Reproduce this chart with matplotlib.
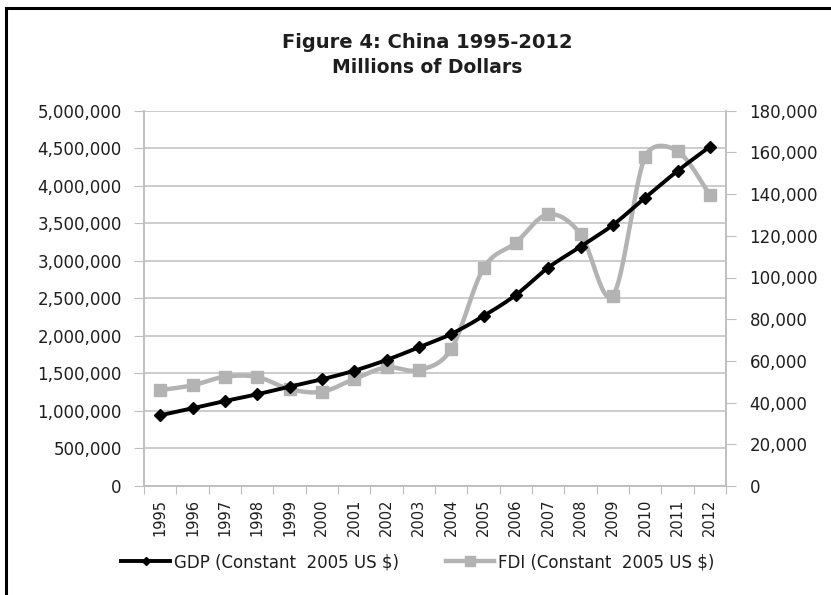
import numpy as np
import matplotlib
matplotlib.use("Agg")
import matplotlib.pyplot as plt
from matplotlib.lines import Line2D
from matplotlib.patches import Rectangle

years = [str(y) for y in range(1995, 2013)]
gdp = [942000, 1035000, 1132000, 1222000, 1323000, 1421000, 1536000, 1679000,
       1847000, 2025000, 2265000, 2545000, 2909000, 3188000, 3477000, 3841000,
       4197000, 4521000]
fdi = [46000, 48300, 52400, 52300, 46500, 45200, 51300, 56900, 55600, 65600,
       104400, 116700, 130300, 120900, 91300, 157900, 160700, 139600]

title = "Figure 4: China 1995-2012"
subtitle = "Millions of Dollars"
gdp_label = "GDP (Constant  2005 US $)"
fdi_label = "FDI (Constant  2005 US $)"

W, H = 831, 595
left, right, top, bottom = 144, 726, 110.7, 486


def smooth(y, ymax, n=24):
    """Excel-like smoothed line: Bezier segments with limited control arms,
    computed in pixel space."""
    y = np.asarray(y, float)
    sx = (right - left) / len(y)
    sy = (bottom - top) / ymax
    P = np.column_stack([np.arange(len(y)) * sx, y * sy])
    Pe = np.vstack([P[0], P, P[-1]])
    out = []
    t = np.linspace(0, 1, n, endpoint=False)[:, None]
    for i in range(len(P) - 1):
        p0, p1, p2, p3 = Pe[i], Pe[i + 1], Pe[i + 2], Pe[i + 3]
        d12 = np.linalg.norm(p2 - p1)
        d02 = np.linalg.norm(p2 - p0)
        d13 = np.linalg.norm(p3 - p1)
        f1 = 1 / 6.0
        f2 = 1 / 6.0
        if d02 / 6.0 > d12 / 2.0 and d02 > 0:
            f1 = d12 / (2.0 * d02)
        if d13 / 6.0 > d12 / 2.0 and d13 > 0:
            f2 = d12 / (2.0 * d13)
        c1 = p1 + (p2 - p0) * f1
        c2 = p2 - (p3 - p1) * f2
        seg = ((1 - t) ** 3) * p1 + 3 * ((1 - t) ** 2) * t * c1 + 3 * (1 - t) * t ** 2 * c2 + t ** 3 * p2
        out.append(seg)
    out.append(P[-1][None, :])
    out = np.vstack(out)
    return out[:, 0] / sx, out[:, 1] / sy


fig = plt.figure(figsize=(W / 100, H / 100), dpi=100)
fig.patch.set_facecolor("white")

# outer border (left/top visible)
fig.patches.append(Rectangle((6 / W, -0.1), 1.2, (H - 8) / H + 0.1, transform=fig.transFigure,
                             fill=False, edgecolor="black", linewidth=2.2))

ax = fig.add_axes([left / W, (H - bottom) / H, (right - left) / W, (bottom - top) / H])
ax2 = ax.twinx()

grid_c = "#BEBEBE"
txt_c = "#1E1E1E"
x = np.arange(len(years))
GMAX, FMAX = 5000000, 180000

ax.set_xlim(-0.5, len(years) - 0.5)
ax.set_ylim(0, GMAX)
ax2.set_ylim(0, FMAX)
ax.set_yticks(np.arange(0, GMAX + 1, 500000))
ax2.set_yticks(np.arange(0, FMAX + 1, 20000))
fmt = matplotlib.ticker.FuncFormatter(lambda v, p: f"{int(v):,}")
ax.yaxis.set_major_formatter(fmt)
ax2.yaxis.set_major_formatter(fmt)
ax.grid(axis="y", color=grid_c, linewidth=1.1)
ax.set_axisbelow(True)

for a in (ax, ax2):
    a.spines["top"].set_visible(False)
    for s in ("left", "right", "bottom"):
        a.spines[s].set_color(grid_c)
        a.spines[s].set_linewidth(1.1)

ax.tick_params(axis="y", length=7, color=grid_c, pad=9, labelcolor=txt_c, labelsize=12)
ax2.tick_params(axis="y", length=7, color=grid_c, pad=10, labelcolor=txt_c, labelsize=12)

ax.set_xticks(np.arange(-0.5, len(years), 1.0))
ax.set_xticklabels([])
ax.tick_params(axis="x", which="major", length=6, color=grid_c)
ax.set_xticks(x, minor=True)
ax.set_xticklabels(years, minor=True, rotation=90, fontsize=10.5, color=txt_c)
ax.tick_params(axis="x", which="minor", length=0, pad=9)

fx, fy = smooth(fdi, FMAX)
gx, gy = smooth(gdp, GMAX)
fdi_c = "#B3B3B3"
ax2.plot(fx - 0.0, fy, color=fdi_c, linewidth=3.2, solid_capstyle="round", zorder=2)
ax2.plot(x, fdi, linestyle="none", marker="s", markersize=8, color=fdi_c, zorder=2)
ax2.plot(gx, np.asarray(gy) * FMAX / GMAX, color="black", linewidth=2.8, zorder=3)
ax2.plot(x, np.asarray(gdp) * FMAX / GMAX, linestyle="none", marker="D", markersize=6,
         color="black", zorder=3)

fig.text(427 / W, 1 - 47.7 / H, title, ha="center", va="baseline", fontsize=14,
         fontweight="bold", family="DejaVu Sans", color=txt_c)
fig.text(427 / W, 1 - 73.3 / H, subtitle, ha="center", va="baseline", fontsize=13.5,
         fontweight="bold", family="DejaVu Sans", color=txt_c)

handles = [Line2D([], [], color="black", linewidth=2.8, marker="D", markersize=4.5),
           Line2D([], [], color=fdi_c, linewidth=3.2, marker="s", markersize=6.5)]
fig.legend(handles, [gdp_label, fdi_label], loc="center", bbox_to_anchor=(418 / W, 1 - 562 / H),
           ncol=2, frameon=False, handlelength=2.9, handletextpad=0.25, columnspacing=2.8,
           prop=dict(family="DejaVu Sans", size=12), labelcolor=txt_c)

fig.savefig("out.png", dpi=100, facecolor="white")
